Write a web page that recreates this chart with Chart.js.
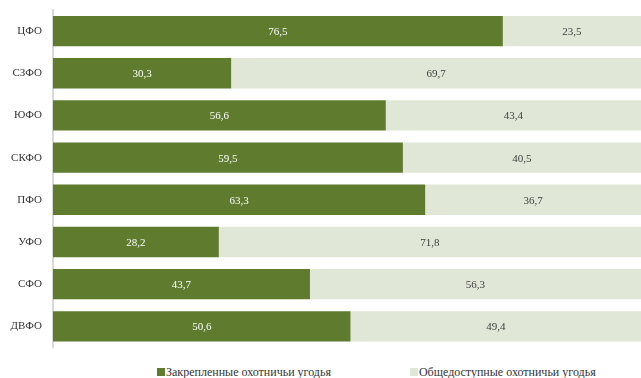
<!DOCTYPE html>
<html>
<head>
<meta charset="utf-8">
<script src="https://cdn.jsdelivr.net/npm/chart.js@4/dist/chart.umd.min.js"></script>
<style>
  html, body { margin: 0; padding: 0; background: #fff; }
  #wrap { position: relative; width: 641px; height: 378px; }
  #chart { position: absolute; left: 0; top: 0; }
  #legend {
    position: absolute; left: 157px; top: 364px;
    display: flex; gap: 79px;
    font: 12px "Liberation Serif", serif; color: #333; line-height: 16px;
  }
  #legend span.item { display: flex; align-items: center; }
  #legend i { display: inline-block; width: 8px; height: 8px; margin-right: 1px; }
</style>
</head>
<body>
<div id="wrap">
  <canvas id="chart" width="641" height="357"></canvas>
  <div id="legend"></div>
</div>
<script>
// данные
const districts = ['ЦФО', 'СЗФО', 'ЮФО', 'СКФО', 'ПФО', 'УФО', 'СФО', 'ДВФО'];
const fixedLands = [76.5, 30.3, 56.6, 59.5, 63.3, 28.2, 43.7, 50.6];
const publicLands = [23.5, 69.7, 43.4, 40.5, 36.7, 71.8, 56.3, 49.4];
const seriesNames = ['Закрепленные охотничьи угодья', 'Общедоступные охотничьи угодья'];
const seriesColors = ['#5e7b2e', '#e1e7d6'];
const labelColors = ['#ffffff', '#404040'];

const fmt = v => v.toFixed(1).replace('.', ',');

// подписи на столбцах
const barLabels = {
    id: 'barLabels',
    afterDatasetsDraw(chart) {
        const ctx = chart.ctx;
        ctx.save();
        ctx.font = '11px "Liberation Serif", serif';
        ctx.textAlign = 'center';
        ctx.textBaseline = 'middle';
        chart.data.datasets.forEach((ds, i) => {
            chart.getDatasetMeta(i).data.forEach((bar, j) => {
                ctx.fillStyle = labelColors[i];
                ctx.fillText(fmt(ds.data[j]), (bar.x + bar.base) / 2, bar.y + 1);
            });
        });
        ctx.restore();
    }
};

new Chart(document.getElementById('chart'), {
    type: 'bar',
    data: {
        labels: districts,
        datasets: [
            { label: seriesNames[0], data: fixedLands, backgroundColor: seriesColors[0] },
            { label: seriesNames[1], data: publicLands, backgroundColor: seriesColors[1] }
        ]
    },
    options: {
        indexAxis: 'y',
        responsive: false,
        animation: false,
        categoryPercentage: 1,
        barPercentage: 0.72,
        layout: { padding: { top: 10, bottom: 9, right: 0 } },
        plugins: { legend: { display: false }, tooltip: { enabled: false } },
        scales: {
            x: { stacked: true, min: 0, max: 100, display: false },
            y: {
                stacked: true,
                afterFit: s => { s.width = 53; },
                grid: { display: false },
                border: { display: true, color: '#d9d9d9', width: 2 },
                ticks: { padding: 3, color: '#333', font: { family: '"Liberation Serif", serif', size: 11 } }
            }
        }
    },
    plugins: [barLabels]
});

// легенда
const legend = document.getElementById('legend');
seriesNames.forEach((name, i) => {
    const item = document.createElement('span');
    item.className = 'item';
    item.innerHTML = '<i style="background:' + seriesColors[i] + '"></i>' + name;
    legend.appendChild(item);
});
</script>
</body>
</html>
